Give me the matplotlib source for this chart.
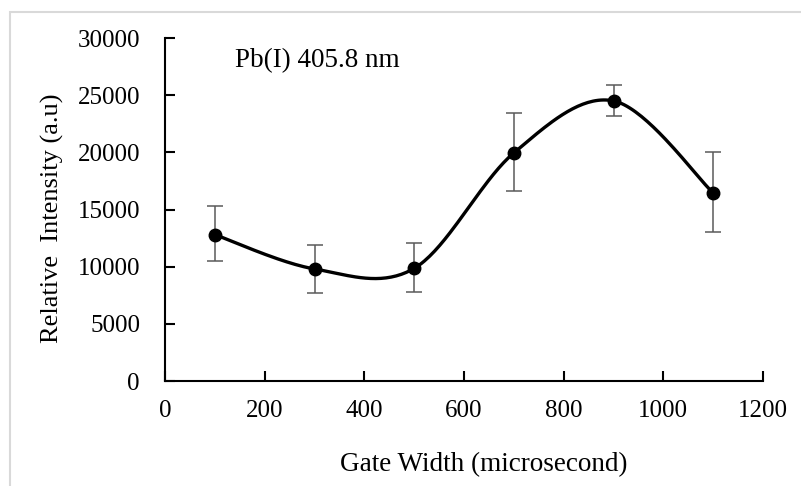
import matplotlib.pyplot as plt
import numpy as np
from matplotlib.patches import Rectangle

plt.rcParams['font.family'] = ['Liberation Serif', 'DejaVu Serif']

gate_width = [100, 300, 500, 700, 900, 1100]
intensity = [12800, 9800, 9850, 19950, 24500, 16450]
err_low = [10500, 7700, 7800, 16600, 23200, 13000]
err_high = [15300, 11900, 12100, 23400, 25900, 20000]


def smooth(x, y, n=40):
    # cardinal (Catmull-Rom) bezier smoothing, like a spreadsheet smoothed line
    x = np.asarray(x, float)
    y = np.asarray(y, float)
    sx = x / 1200.0
    sy = y / 30000.0 * (343.0 / 598.0)
    px = np.concatenate([[sx[0]], sx, [sx[-1]]])
    py = np.concatenate([[sy[0]], sy, [sy[-1]]])
    outx, outy = [], []
    t = np.linspace(0, 1, n)
    for i in range(1, len(px) - 2):
        p0 = np.array([px[i], py[i]])
        p3 = np.array([px[i + 1], py[i + 1]])
        c1 = p0 + (p3 - np.array([px[i - 1], py[i - 1]])) / 6.0
        c2 = p3 - (np.array([px[i + 2], py[i + 2]]) - p0) / 6.0
        b = ((1 - t) ** 3)[:, None] * p0 + (3 * (1 - t) ** 2 * t)[:, None] * c1 \
            + (3 * (1 - t) * t ** 2)[:, None] * c2 + (t ** 3)[:, None] * p3
        outx.extend(b[:, 0])
        outy.extend(b[:, 1])
    outx = np.array(outx) * 1200.0
    outy = np.array(outy) / (343.0 / 598.0) * 30000.0
    return outx, outy


fig = plt.figure(figsize=(8.01, 4.86), dpi=100)
fig.patches.append(Rectangle((10 / 801, -0.1), 1.2, 1.1 - 12 / 486, transform=fig.transFigure,
                             fill=False, edgecolor='#d9d9d9', linewidth=1.5))
ax = fig.add_axes([165 / 801, 1 - 381 / 486, 598 / 801, 343 / 486])

yerr = [np.array(intensity) - np.array(err_low), np.array(err_high) - np.array(intensity)]
ax.errorbar(gate_width, intensity, yerr=yerr, fmt='none', ecolor='#5a5a5a',
            elinewidth=1.1, capsize=6, capthick=1.1, zorder=2)
sx, sy = smooth(gate_width, intensity)
ax.plot(sx, sy, color='black', linewidth=2.4, zorder=3)
ax.plot(gate_width, intensity, 'o', color='black', markersize=9, zorder=4)

ax.set_xlim(0, 1200)
ax.set_ylim(0, 30000)
ax.set_xticks(range(0, 1201, 200))
ax.set_yticks(range(0, 30001, 5000))
ax.spines['top'].set_visible(False)
ax.spines['right'].set_visible(False)
for s in ['left', 'bottom']:
    ax.spines[s].set_linewidth(1.5)
ax.tick_params(direction='in', length=7, width=1.5, labelsize=18)
ax.tick_params(axis='y', pad=18)
ax.tick_params(axis='x', pad=14)

ax.set_xlabel('Gate Width (microsecond)', fontsize=19.5, va='center')
ax.xaxis.set_label_coords(0.533, -0.245)
ax.set_ylabel('Relative  Intensity (a.u)', fontsize=19, va='center')
ax.yaxis.set_label_coords(-0.189, 0.475)
ax.text(0.117, 0.933, 'Pb(I) 405.8 nm', transform=ax.transAxes, fontsize=19.5, va='center')

fig.savefig('out.png', dpi=100)
